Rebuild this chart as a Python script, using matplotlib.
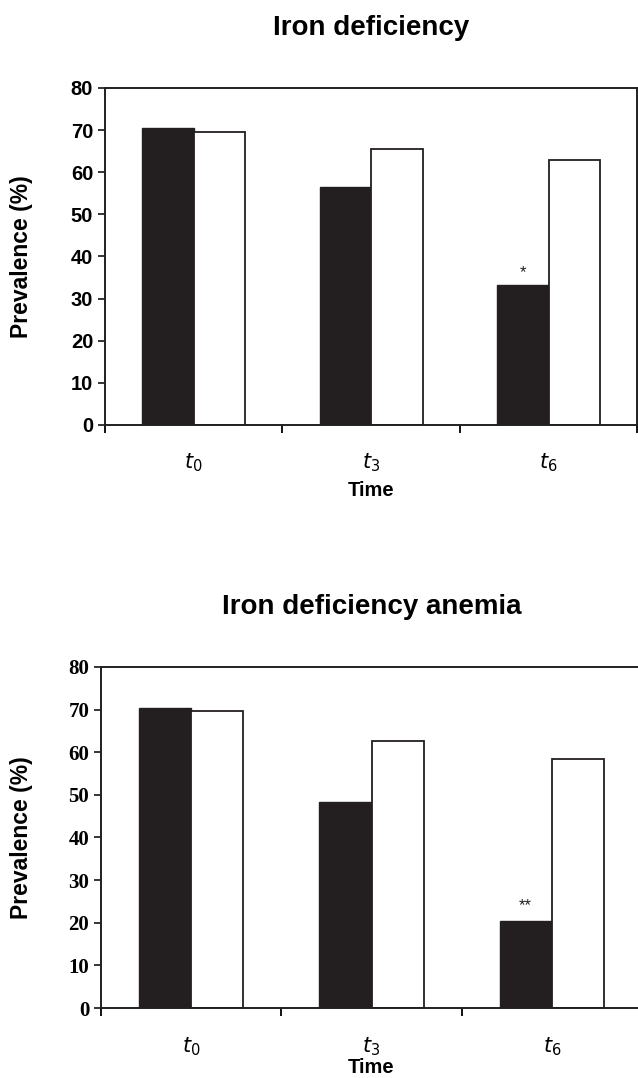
import matplotlib.pyplot as plt
import numpy as np
from matplotlib.font_manager import FontProperties

# data
times = ['$t_0$', '$t_3$', '$t_6$']
id_black = [70.5, 56.5, 33.2]
id_white = [69.6, 65.6, 62.8]
ida_black = [70.4, 48.3, 20.5]
ida_white = [69.6, 62.7, 58.5]
id_marks = ['', '', '*']
ida_marks = ['', '', '**']

fig = plt.figure(figsize=(6.38, 10.78), dpi=100)

ax1 = fig.add_axes([0.1646, 0.6058, 0.8345, 0.3126])
ax2 = fig.add_axes([0.1583, 0.0649, 0.8480, 0.3164])

W = 0.29
INK = '#231f20'


def draw(ax, black, white, marks, title, tickfont, ylab_x, star_gap, tpad, xlpad):
    x = np.arange(len(times))
    ax.bar(x - W / 2, black, W, color=INK, edgecolor=INK, linewidth=1.0)
    ax.bar(x + W / 2, white, W, color='white', edgecolor=INK, linewidth=1.3)
    for i, m in enumerate(marks):
        if m:
            ax.text(x[i] - W / 2, black[i] + star_gap, m, ha='center', va='bottom',
                    fontsize=12, color=INK, family='Liberation Sans')
    ax.set_xlim(-0.5, 2.5)
    ax.set_ylim(0, 80)
    ax.set_yticks(range(0, 81, 10))
    ax.set_xticks([-0.5, 0.5, 1.5, 2.5])
    ax.set_xticklabels([])
    ax.set_xticks(x, minor=True)
    ax.set_xticklabels(times, minor=True, fontsize=15, style='italic',
                       family='Liberation Sans')
    ax.tick_params(axis='x', which='minor', length=0, pad=tpad)
    ax.tick_params(axis='x', which='major', length=6, width=1.3, direction='out')
    ax.tick_params(axis='y', length=5, width=1.1, direction='out', pad=3.5)
    for lab in ax.get_yticklabels():
        lab.set_fontproperties(tickfont)
    for s in ax.spines.values():
        s.set_linewidth(1.4)
        s.set_color(INK)
    ax.set_ylabel('Prevalence (%)', fontsize=16.5, fontweight='bold',
                  family='Liberation Sans')
    ax.yaxis.set_label_coords(ylab_x, 0.5)
    ax.set_xlabel('Time', fontsize=14.5, fontweight='bold',
                  family='Liberation Sans', labelpad=xlpad)
    ax.set_title(title, fontsize=20, fontweight='bold', family='Liberation Sans',
                 pad=38, color='black')


sans_b = FontProperties(family='Liberation Sans', weight='bold', size=14.5)
serif_b = FontProperties(family='Liberation Serif', weight='bold', size=15)

draw(ax1, id_black, id_white, id_marks, 'Iron deficiency', sans_b, -0.135, 1.2, 19, 5)
draw(ax2, ida_black, ida_white, ida_marks, 'Iron deficiency anemia', serif_b, -0.126, 1.8, 20, 0)

fig.savefig('out.png', dpi=100)
